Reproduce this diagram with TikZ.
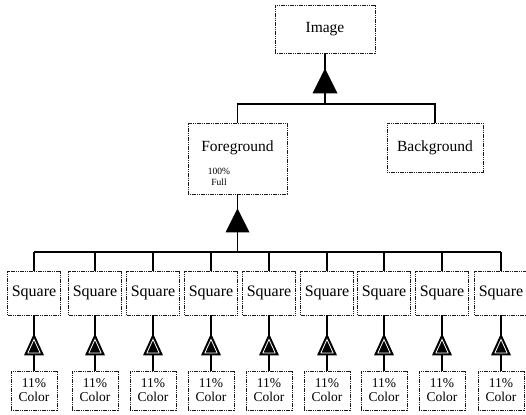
\documentclass[tikz,border=0pt]{standalone}
\usepackage{fontspec}
\setmainfont{Liberation Serif}
\usetikzlibrary{calc}
\begin{document}
\begin{tikzpicture}[x=1pt,y=-1pt,
  box/.style={draw=black!90, line width=0.8pt, dash pattern=on 1.2pt off 0.6pt,
    inner sep=0pt, fill=white},
  bigtext/.style={font=\fontsize{15.5}{17}\selectfont},
  sqbox/.style={box, minimum width=53, minimum height=44, font=\fontsize{16}{17}\selectfont},
  colbox/.style={box, minimum width=46, minimum height=39, align=center,
    font=\fontsize{13.5}{14}\selectfont},
  conn/.style={line width=1.6pt, black},
  notetext/.style={inner sep=0pt, align=center, font=\fontsize{9.5}{10.5}\selectfont}]
\useasboundingbox (0,0) rectangle (526,414);

% top level
\node[box, minimum width=100, minimum height=48, bigtext] (img) at (325,29) {Image};
\node[box, minimum width=99, minimum height=71] (fg) at (237.5,158.5) {};
\node[inner sep=0pt, bigtext] (fgtitle) at (237.5,148) {Foreground};
\node[notetext] (fgnote) at (219,177) {100\%\\Full};
\node[box, minimum width=96, minimum height=49, bigtext] (bg) at (435,147.5) {Background};

\coordinate (b1) at (0,104);
\coordinate (b2) at (0,252);

% image -> foreground / background
\draw[conn] (img.south) -- (img.south |- b1);
\draw[conn] (fg.north) |- (bg.north |- b1) -- (bg.north);
\fill ($(img.south)+(0,15)$) -- ++(12.5,25) -- ++(-25,0) -- cycle;

% foreground -> squares
\draw[conn] (fg.south) -- (fg.south |- b2);
\fill ($(fg.south)+(0,14)$) -- ++(12,24) -- ++(-24,0) -- cycle;

\foreach \i/\cx in {1/34,2/95,3/153,4/211,5/269,6/327,7/384,8/442,9/501} {
  \node[sqbox] (s\i) at (\cx,293) {Square};
  \node[colbox] (c\i) at (\cx,390.5) {11\%\\Color};
  \draw[conn] (s\i.north) -- (s\i.north |- b2);
  \draw[conn] (s\i.south) -- (c\i.north);
  % open triangle marker
  \fill ($(s\i.south)+(0,18)$) -- ++(10,22) -- ++(-20,0) -- cycle;
  \draw[white, line width=0.8pt] ($(s\i.south)+(0,24)$) -- ++(6.1,13.5) -- ++(-12.2,0) -- cycle;
}
\draw[conn] (s1.north |- b2) -- (s9.north |- b2);
\end{tikzpicture}
\end{document}
